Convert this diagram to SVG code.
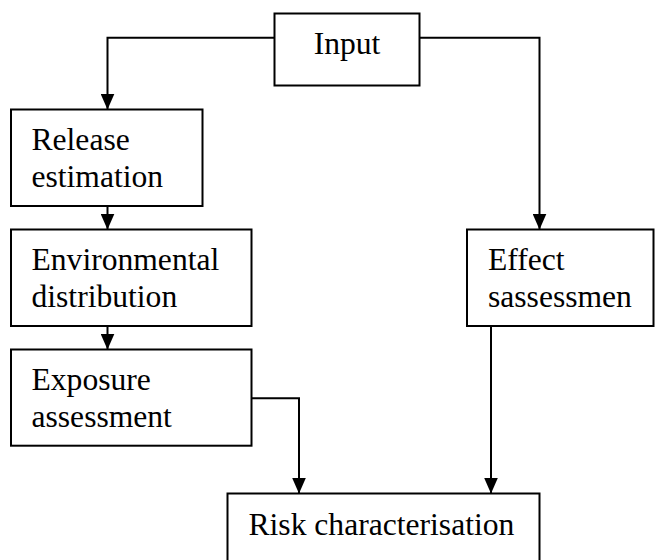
<svg xmlns="http://www.w3.org/2000/svg" width="655" height="560" viewBox="0 0 655 560">
<defs>
<marker id="ah" markerUnits="userSpaceOnUse" viewBox="0 0 16 14" refX="16" refY="7" markerWidth="16" markerHeight="14" orient="auto">
<path d="M0,0 L16,7 L0,14 z" fill="#000"/>
</marker>
</defs>
<rect width="655" height="560" fill="#fff"/>
<g id="connectors" fill="none" stroke="#000" stroke-width="2">
<path d="M274.5 37.7 H107.5 V109.5" marker-end="url(#ah)"/>
<path d="M419.5 37.7 H539.5 V229.5" marker-end="url(#ah)"/>
<path d="M107.5 206 V229.5" marker-end="url(#ah)"/>
<path d="M107.5 326 V349.5" marker-end="url(#ah)"/>
<path d="M251.5 398.3 H299 V493.5" marker-end="url(#ah)"/>
<path d="M491 326 V493.5" marker-end="url(#ah)"/>
</g>
<g id="input">
<rect x="274.5" y="13.5" width="145" height="72" fill="#fff" stroke="#000" stroke-width="2"/>
<text x="347" y="54.3" text-anchor="middle" font-family="Liberation Serif, serif" font-size="31.6">Input</text>
</g>
<g id="release">
<rect x="11" y="109.5" width="191.5" height="96.5" fill="#fff" stroke="#000" stroke-width="2"/>
<text x="31.5" y="150" font-family="Liberation Serif, serif" font-size="31.6">Release</text>
<text x="31.5" y="187.3" font-family="Liberation Serif, serif" font-size="31.6">estimation</text>
</g>
<g id="environmental">
<rect x="11" y="229.5" width="240.5" height="96.5" fill="#fff" stroke="#000" stroke-width="2"/>
<text x="31.5" y="270" font-family="Liberation Serif, serif" font-size="31.6">Environmental</text>
<text x="31.5" y="307.3" font-family="Liberation Serif, serif" font-size="31.6">distribution</text>
</g>
<g id="exposure">
<rect x="11" y="349.5" width="240.5" height="96.2" fill="#fff" stroke="#000" stroke-width="2"/>
<text x="31.5" y="390" font-family="Liberation Serif, serif" font-size="31.6">Exposure</text>
<text x="31.5" y="427" font-family="Liberation Serif, serif" font-size="31.6">assessment</text>
</g>
<g id="effect">
<rect x="467" y="229.5" width="186.5" height="96.5" fill="#fff" stroke="#000" stroke-width="2"/>
<text x="488" y="270" font-family="Liberation Serif, serif" font-size="31.6">Effect</text>
<text x="488" y="307.3" font-family="Liberation Serif, serif" font-size="31.6">sassessmen</text>
</g>
<g id="risk">
<rect x="227.5" y="493.5" width="312" height="80" fill="#fff" stroke="#000" stroke-width="2"/>
<text x="248.5" y="535" font-family="Liberation Serif, serif" font-size="31.6">Risk characterisation</text>
</g>
</svg>
